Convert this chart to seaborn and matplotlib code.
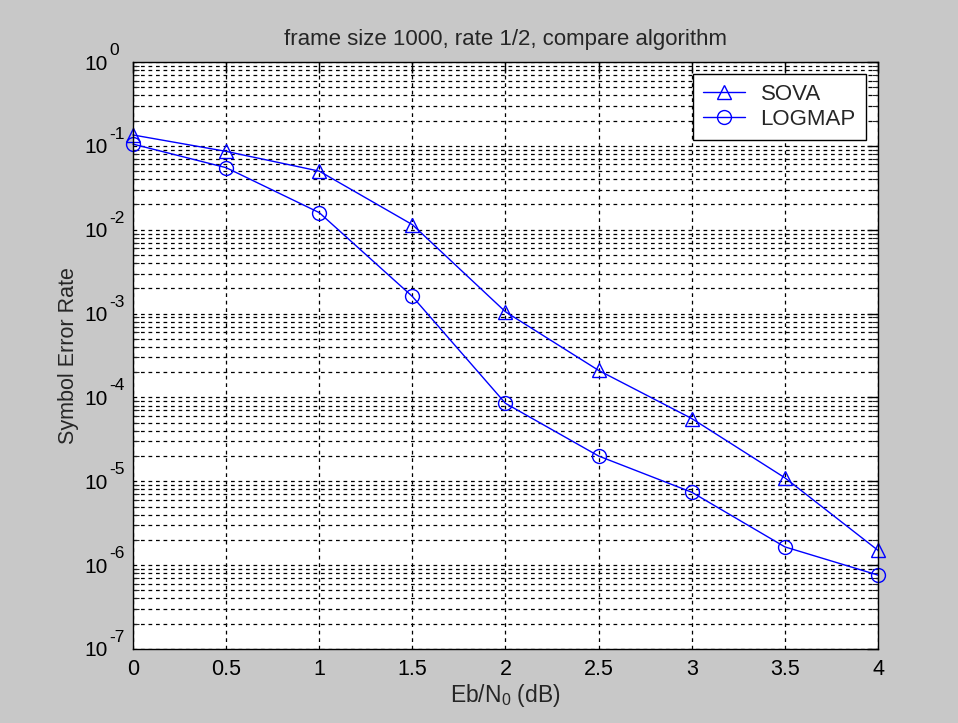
import numpy as np
import pandas as pd
import matplotlib
matplotlib.use("Agg")
import matplotlib.pyplot as plt
import matplotlib.transforms as mtransforms
import seaborn as sns
from matplotlib.ticker import LogLocator, NullFormatter

ebn0 = [0, 0.5, 1, 1.5, 2, 2.5, 3, 3.5, 4]
sova = [0.135, 0.086, 0.05, 0.0115, 0.00105, 2.1e-4, 5.6e-5, 1.1e-5, 1.5e-6]
logmap = [0.105, 0.055, 0.016, 0.0016, 8.5e-5, 2.0e-5, 7.4e-6, 1.65e-6, 7.6e-7]
names = ["SOVA", "LOGMAP"]
xtick_labels = ["0", "0.5", "1", "1.5", "2", "2.5", "3", "3.5", "4"]
ydecades = [-7, -6, -5, -4, -3, -2, -1, 0]

df = pd.concat([
    pd.DataFrame({"ebn0": ebn0, "ser": sova, "alg": "SOVA"}),
    pd.DataFrame({"ebn0": ebn0, "ser": logmap, "alg": "LOGMAP"}),
])

sns.set_style("white")
plt.rcParams["font.family"] = ["Liberation Sans", "DejaVu Sans"]
plt.rcParams["mathtext.fontset"] = "custom"
plt.rcParams["mathtext.rm"] = "Liberation Sans"
plt.rcParams["mathtext.it"] = "Liberation Sans:italic"

fig = plt.figure(figsize=(9.58, 7.23), dpi=100, facecolor="#c8c8c8")
ax = fig.add_axes([0.1388, 0.1024, 0.7777, 0.8118])
ax.set_facecolor("white")

sns.lineplot(data=df, x="ebn0", y="ser", hue="alg", style="alg",
             hue_order=names, style_order=names,
             palette={"SOVA": "blue", "LOGMAP": "blue"},
             markers={"SOVA": "^", "LOGMAP": "o"}, dashes=False,
             markersize=10, markerfacecolor="none", markeredgecolor="blue",
             markeredgewidth=1.0, linewidth=1.0, ax=ax, clip_on=False)

ax.set_yscale("log")
ax.set_xlim(0, 4)
ax.set_ylim(1e-7, 1)
ax.set_xticks(ebn0)
ax.set_xticklabels(xtick_labels)
ax.set_yticks([10.0 ** d for d in ydecades])
ax.set_yticklabels(["10"] * len(ydecades))
ax.yaxis.set_minor_locator(LogLocator(base=10, subs=np.arange(2, 10), numticks=20))
ax.yaxis.set_minor_formatter(NullFormatter())
ax.tick_params(axis="both", which="major", direction="in", length=8, width=1,
               top=True, right=True, colors="black")
ax.tick_params(axis="x", labelsize=15.5, pad=7)
ax.tick_params(axis="y", labelsize=15, pad=18)
ax.tick_params(axis="y", which="minor", direction="in", length=4, width=0.8,
               left=True, right=True)

# MATLAB style big exponents, placed next to each "10"
ytrans = mtransforms.blended_transform_factory(ax.transAxes, ax.transData)
for d in ydecades:
    off = mtransforms.ScaledTranslation(-24 / 100, 7 / 100, fig.dpi_scale_trans)
    ax.text(0, 10.0 ** d, "-%d" % -d if d < 0 else "%d" % d,
            transform=ytrans + off, ha="left", va="baseline",
            fontsize=12.5, color="black", clip_on=False)

ax.grid(True, which="both", axis="y", color="black", linestyle=(0, (3, 3)), linewidth=0.9)
ax.grid(True, which="major", axis="x", color="black", linestyle=(0, (3, 3)), linewidth=0.9)
for s in ax.spines.values():
    s.set_color("black")
    s.set_linewidth(1.0)

ax.set_title("frame size 1000, rate 1/2, compare algorithm", fontsize=16, pad=12)
ax.set_xlabel("Eb/N$_0$ (dB)", fontsize=16.5, labelpad=2)
ax.set_ylabel("Symbol Error Rate", fontsize=15.5, labelpad=4)

leg = ax.legend(loc="upper right", fontsize=16, frameon=True, fancybox=False,
                edgecolor="black", framealpha=1, borderaxespad=0.55,
                handlelength=1.9, handletextpad=0.7, labelspacing=0.15,
                borderpad=0.45)
leg.get_frame().set_linewidth(1.0)

fig.savefig("out.png", dpi=100, facecolor=fig.get_facecolor())
